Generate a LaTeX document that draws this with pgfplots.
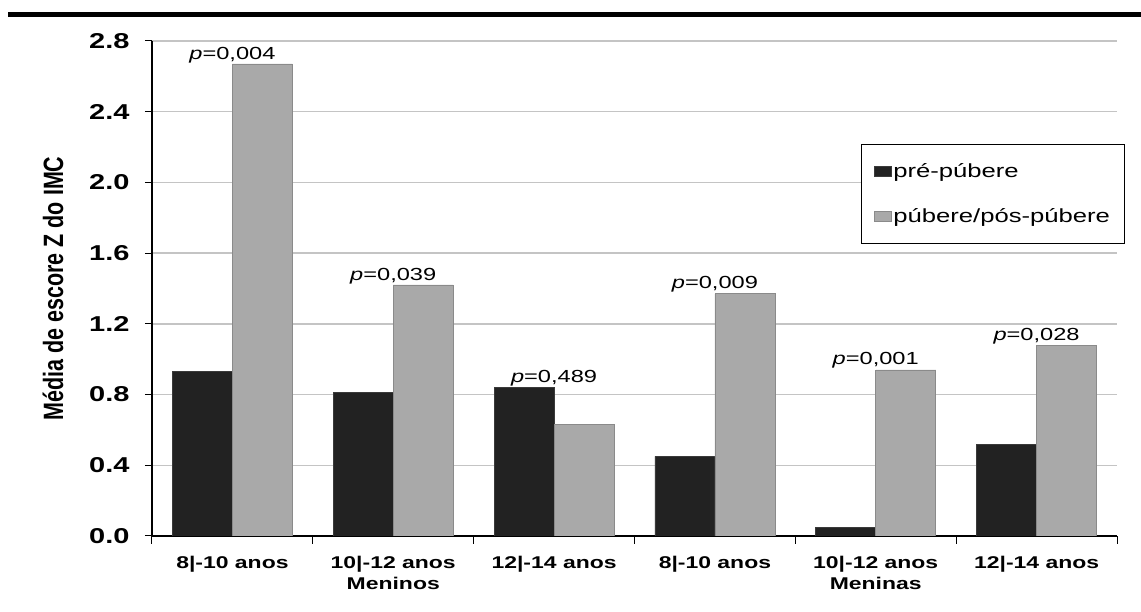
\documentclass[border=0pt]{standalone}
\usepackage{fontspec}
\setmainfont{Liberation Sans}[FakeStretch=1.35]
\newfontfamily\ylabfont{Liberation Sans}
\usepackage{graphicx}
\usepackage{pgfplots}
\usepackage{pgfplotstable}
\pgfplotsset{compat=1.18}

\definecolor{darkbar}{HTML}{222222}
\definecolor{darkedge}{HTML}{3A3A3A}
\definecolor{lightbar}{HTML}{A9A9A9}
\definecolor{lightedge}{HTML}{8A8A8A}
\definecolor{gridgray}{HTML}{C4C4C4}

\pgfplotstableread{
x pre pos
0 0.93 2.67
1 0.81 1.42
2 0.84 0.63
3 0.45 1.37
4 0.05 0.94
5 0.52 1.08
}\datatable

\begin{document}
\begin{tikzpicture}
\path[use as bounding box] (-152pt,-76pt) rectangle (989pt,536pt);
\fill[black] (-144pt,518.5pt) rectangle (989pt,523.5pt);
\begin{axis}[
  scale only axis, width=965pt, height=495pt,
  xmin=-0.5, xmax=5.5, ymin=0, ymax=2.8,
  ybar=0pt, bar width=60pt,
  axis x line*=bottom, axis y line*=left,
  axis line style={black, line width=1.3pt, -},
  ytick={0,0.4,0.8,1.2,1.6,2.0,2.4,2.8},
  /pgf/number format/fixed,
  /pgf/number format/fixed zerofill,
  /pgf/number format/precision=1,
  /pgf/number format/assume math mode=true,
  yticklabel style={font=\fontsize{21.5}{25}\selectfont\bfseries, xshift=-12pt},
  ymajorgrids, major grid style={gridgray, line width=1.3pt},
  xtick={0,...,5},
  xticklabels={8|-10 anos, 10|-12 anos\\Meninos, 12|-14 anos, 8|-10 anos, 10|-12 anos\\Meninas, 12|-14 anos},
  xticklabel style={font=\fontsize{17}{21}\selectfont\bfseries, align=center, yshift=-10pt},
  major x tick style={draw=none},
  minor xtick={-0.5,0.5,1.5,2.5,3.5,4.5,5.5},
  minor tick length=8pt,
  major tick length=7pt,
  tick align=outside,
  tick style={black, line width=1pt},
  ylabel={\ylabfont\bfseries\fontsize{21.5}{25}\selectfont\scalebox{1}[1.3]{Média de escore Z do IMC}},
  ylabel style={at={(axis description cs:-0.1026,0.5)}, anchor=center},
  legend image code/.code={\draw[#1, line width=0.6pt] (0pt,-5pt) rectangle (17pt,5pt);},
  legend style={at={(axis description cs:0.735,0.792)}, anchor=north west,
    draw=black, line width=0.8pt, fill=white,
    font=\fontsize{19}{23}\selectfont, row sep=26pt,
    inner xsep=12pt, inner ysep=17pt,
    cells={anchor=west}},
  legend cell align=left,
]
\addplot[fill=darkbar, draw=darkedge, line width=0.6pt] table[x=x, y=pre] {\datatable};
\addplot[fill=lightbar, draw=lightedge, line width=0.6pt] table[x=x, y=pos] {\datatable};
\legend{pré-púbere, púbere/pós-púbere}
\begin{scope}[every node/.style={font=\fontsize{17.5}{21}\selectfont, anchor=south, inner sep=1pt}]
\node at (axis cs:0,2.67) {\textit{p}=0,004};
\node at (axis cs:1,1.42) {\textit{p}=0,039};
\node at (axis cs:2,0.84) {\textit{p}=0,489};
\node at (axis cs:3,1.37) {\textit{p}=0,009};
\node at (axis cs:4,0.94) {\textit{p}=0,001};
\node at (axis cs:5,1.08) {\textit{p}=0,028};
\end{scope}
\end{axis}
\end{tikzpicture}
\end{document}
